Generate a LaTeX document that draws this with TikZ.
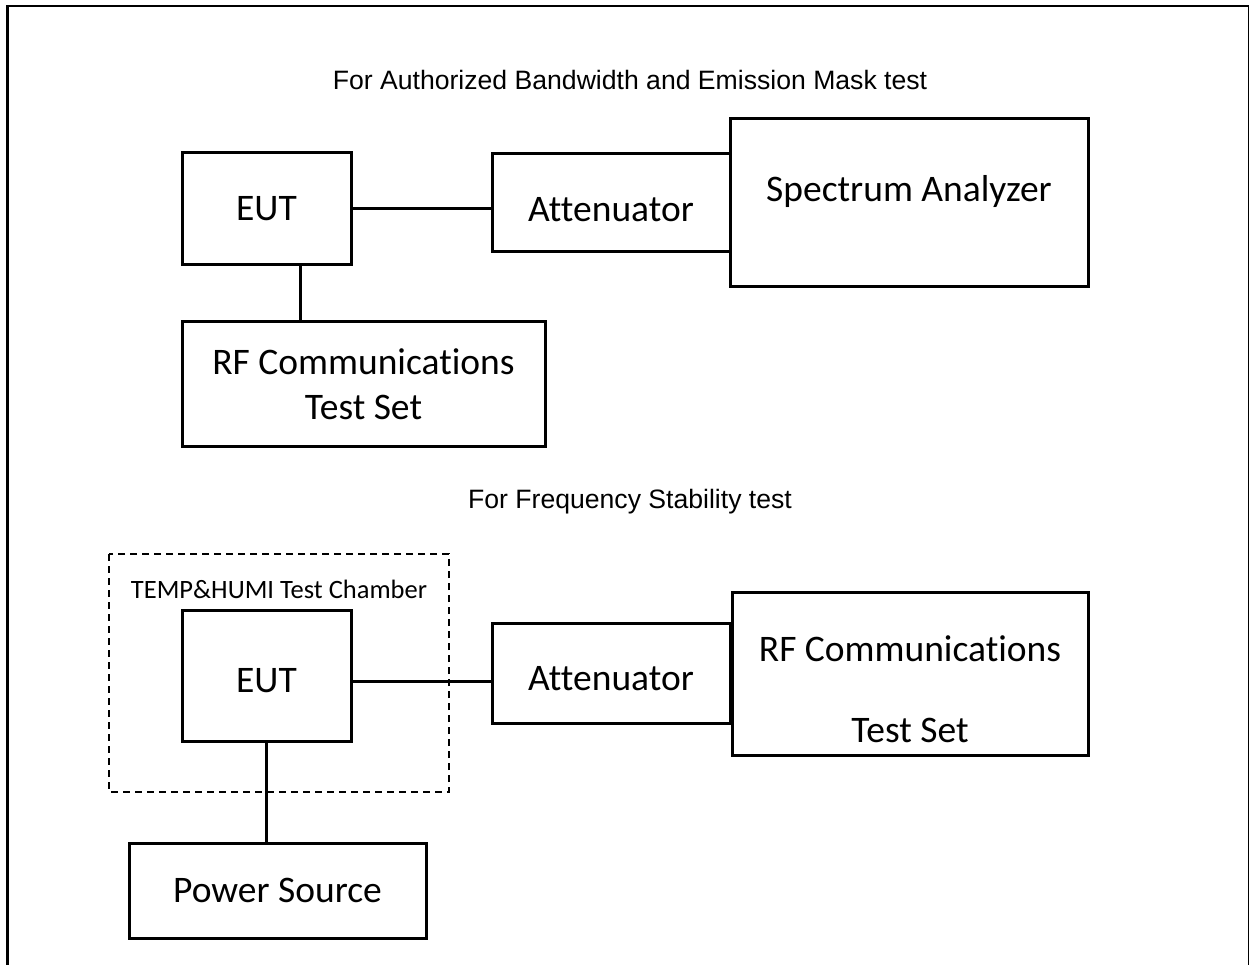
\documentclass[tikz,border=0pt]{standalone}
\usepackage{fontspec}
\setmainfont{Carlito}[Ligatures=NoCommon]
\newfontfamily\titlefont{Liberation Sans}
\usetikzlibrary{positioning}

\begin{document}
\begin{tikzpicture} [x=1pt, y=-1pt, devbox/.style={draw, line width=3pt, inner sep=0pt, font=\fontsize{37.5}{45}\selectfont, align=center}, link/.style={line width=3pt}, headline/.style={font=\titlefont\fontsize{26.6}{32}\selectfont}]
\useasboundingbox (0,0) rectangle (1250,965);
\draw[line width=3pt] (7,965) -- (7,6);
\draw[line width=2pt] (6,6) -- (1249,6);
\draw[line width=1pt] (1248.5,6) -- (1248.5,965);
\node[headline] (titleA) at (630,80) {For Authorized Bandwidth and Emission Mask test};
\node[devbox, minimum width=169, minimum height=112] (eutA) at (266.5,209) {EUT};
\node[devbox, minimum width=238, minimum height=98, text height=38pt] (attA) at (611,202.5) {Attenuator};
\node[devbox, minimum width=358, minimum height=168, text depth=30pt] (specA) at (909,203) {Spectrum Analyzer};
\node[devbox, minimum width=363, minimum height=124] (rfA) at (363.5,384) {RF Communications\\Test Set};
\node[headline] (titleB) at (630,502) {For Frequency Stability test};
\draw[dashed, line width=1.3pt, dash pattern=on 7pt off 5pt] (109,554) rectangle (449,792);
\node[font=\fontsize{26.5}{32}\selectfont] (chamber) at (279,589) {TEMP\&HUMI Test Chamber};
\node[devbox, minimum width=169, minimum height=131, text height=34pt] (eutB) at (266.5,676) {EUT};
\node[devbox, minimum width=238, minimum height=100, text height=36pt] (attB) at (611,673) {Attenuator};
\node[devbox, minimum width=356, minimum height=163] (rfB) at (910,673.5) {\rule{0pt}{58pt}RF Communications\\[36pt]Test Set};
\node[devbox, minimum width=297, minimum height=95] (psB) at (277.5,890.5) {Power Source};
\draw[link] (eutA.east) -- (eutA.east -| attA.west);
\draw[link] ([xshift=33.5pt]eutA.south) -- ([xshift=33.5pt]eutA.south |- rfA.north);
\draw[link] ([yshift=-5pt]eutB.east) -- ([yshift=-5pt]eutB.east -| attB.west);
\draw[link] (eutB.south) -- (eutB.south |- psB.north);
\end{tikzpicture}
\end{document}
